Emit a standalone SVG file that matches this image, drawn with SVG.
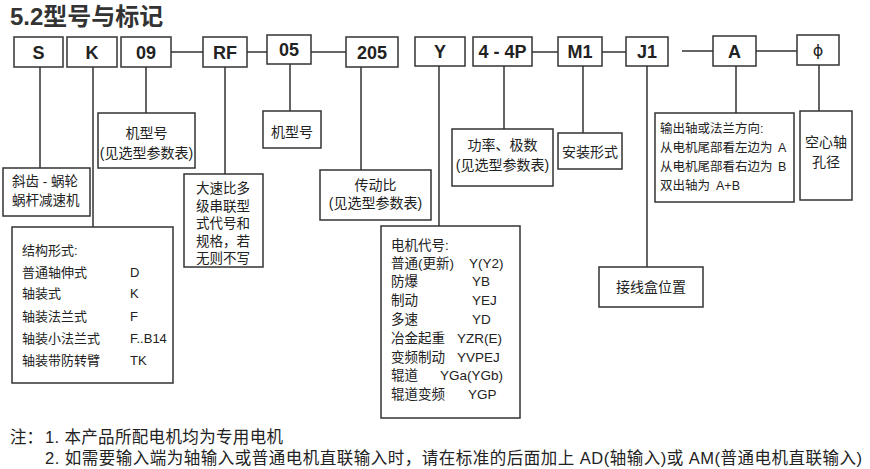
<svg xmlns="http://www.w3.org/2000/svg" width="870" height="469" viewBox="0 0 870 469">
<style>
.box{fill:#fff;stroke:#333;stroke-width:1.5}
.ln{fill:none;stroke:#333;stroke-width:1.5}
.code{font-family:"Liberation Sans","Noto Sans CJK SC",sans-serif;font-weight:bold;font-size:18px;fill:#222;text-anchor:middle}
.t{font-family:"Liberation Sans","Noto Sans CJK SC",sans-serif;font-size:13.5px;fill:#222}
.s13{font-size:13px}
.s12{font-size:12.5px}
.s14{font-size:14px}
.c{text-anchor:middle}
.note{font-family:"Liberation Sans","Noto Sans CJK SC",sans-serif;font-size:16.5px;fill:#222}
</style>
<rect width="870" height="469" fill="#fff"/>
<text x="10" y="25" font-family="Liberation Sans, Noto Sans CJK SC, sans-serif" font-weight="bold" font-size="24" fill="#333">5.2型号与标记</text>

<g id="connectors">
<path class="ln" d="M40 67V168M93 67V227M146 67V113M225 67V174M290 64V111M361 67V170M439 66V226M504 66V129M583 66V133M647 66V267M736 66V113M819 65V111"/>
<path class="ln" d="M171 52H203M247 52H267M311 52H346M532 52H558M602 52H626M682 51H713M756 51H797"/>
</g>

<g id="node-S"><rect class="box" x="14" y="37" width="49" height="30"/><text class="code" x="38.5" y="58.5">S</text></g>
<g id="node-K"><rect class="box" x="67" y="37" width="50" height="30"/><text class="code" x="92" y="58.5">K</text></g>
<g id="node-09"><rect class="box" x="121" y="37" width="50" height="30"/><text class="code" x="146" y="58.5">09</text></g>
<g id="node-RF"><rect class="box" x="203" y="37" width="44" height="30"/><text class="code" x="225" y="58.5">RF</text></g>
<g id="node-05"><rect class="box" x="267" y="35" width="44" height="29"/><text class="code" x="289" y="56">05</text></g>
<g id="node-205"><rect class="box" x="346" y="37" width="52" height="30"/><text class="code" x="372" y="58.5">205</text></g>
<g id="node-Y"><rect class="box" x="415" y="37" width="50" height="29"/><text class="code" x="440" y="58">Y</text></g>
<g id="node-44P"><rect class="box" x="473" y="37" width="59" height="29"/><text class="code" x="502.5" y="58">4 - 4P</text></g>
<g id="node-M1"><rect class="box" x="558" y="37" width="44" height="29"/><text class="code" x="580" y="58">M1</text></g>
<g id="node-J1"><rect class="box" x="626" y="37" width="42" height="29"/><text class="code" x="647" y="58">J1</text></g>
<g id="node-A"><rect class="box" x="713" y="36" width="43" height="30"/><text class="code" x="734.5" y="57.5">A</text></g>
<g id="node-phi"><rect class="box" x="797" y="35" width="42" height="30"/><text x="818" y="56" font-family="DejaVu Sans, sans-serif" font-size="16" fill="#222" text-anchor="middle">ϕ</text></g>

<g id="desc-S"><rect class="box" x="3" y="168" width="87" height="48"/>
<text class="t" x="12" y="186">斜齿 - 蜗轮</text><text class="t" x="12" y="205">蜗杆减速机</text></g>

<g id="desc-K"><rect class="box" x="12" y="227" width="161" height="156"/>
<g class="t s13">
<text x="22" y="255">结构形式:</text>
<text x="22" y="277">普通轴伸式</text><text x="130" y="277">D</text>
<text x="22" y="298">轴装式</text><text x="130" y="298">K</text>
<text x="22" y="321">轴装法兰式</text><text x="130" y="321">F</text>
<text x="22" y="343">轴装小法兰式</text><text x="130" y="343">F..B14</text>
<text x="22" y="365">轴装带防转臂</text><text x="130" y="365">TK</text>
</g></g>

<g id="desc-09"><rect class="box" x="98" y="113" width="97" height="55"/>
<text class="t s14 c" x="146.5" y="138">机型号</text><text class="t s14 c" x="146.5" y="158">(见选型参数表)</text></g>

<g id="desc-RF"><rect class="box" x="184" y="174" width="79" height="93"/>
<g class="t">
<text x="196" y="193">大速比多</text>
<text x="196" y="210.5">级串联型</text>
<text x="196" y="228">式代号和</text>
<text x="196" y="245.5">规格，若</text>
<text x="196" y="263">无则不写</text>
</g></g>

<g id="desc-05"><rect class="box" x="263" y="111" width="58" height="37"/>
<text class="t s14 c" x="292" y="137">机型号</text></g>

<g id="desc-205"><rect class="box" x="320" y="170" width="111" height="50"/>
<text class="t s14 c" x="375.5" y="190">传动比</text><text class="t s14 c" x="375.5" y="208">(见选型参数表)</text></g>

<g id="desc-Y"><rect class="box" x="381" y="226" width="139" height="192"/>
<g class="t">
<text x="391" y="250">电机代号:</text>
<text x="391" y="268">普通(更新)</text><text x="469" y="268">Y(Y2)</text>
<text x="391" y="286">防爆</text><text x="472" y="286">YB</text>
<text x="391" y="305">制动</text><text x="472" y="305">YEJ</text>
<text x="391" y="324">多速</text><text x="472" y="324">YD</text>
<text x="391" y="343">冶金起重</text><text x="457" y="343">YZR(E)</text>
<text x="391" y="362">变频制动</text><text x="457" y="362">YVPEJ</text>
<text x="391" y="380">辊道</text><text x="440" y="380">YGa(YGb)</text>
<text x="391" y="399">辊道变频</text><text x="468" y="399">YGP</text>
</g></g>

<g id="desc-44P"><rect class="box" x="452" y="129" width="101" height="57"/>
<text class="t s14 c" x="502.5" y="150">功率、极数</text><text class="t s14 c" x="502.5" y="170">(见选型参数表)</text></g>

<g id="desc-M1"><rect class="box" x="558" y="133" width="64" height="36"/>
<text class="t s14 c" x="590" y="157">安装形式</text></g>

<g id="desc-J1"><rect class="box" x="599" y="267" width="104" height="40"/>
<text class="t s14 c" x="651" y="292">接线盒位置</text></g>

<g id="desc-A"><rect class="box" x="655" y="113" width="139" height="89"/>
<g class="t s12">
<text x="660" y="133">输出轴或法兰方向:</text>
<text x="660" y="152">从电机尾部看左边为</text><text x="778" y="152">A</text>
<text x="660" y="171">从电机尾部看右边为</text><text x="778" y="171">B</text>
<text x="660" y="190">双出轴为</text><text x="716" y="190">A+B</text>
</g></g>

<g id="desc-phi"><rect class="box" x="800" y="111" width="52" height="89"/>
<text class="t s14 c" x="826" y="147">空心轴</text><text class="t s14 c" x="826" y="167">孔径</text></g>

<g id="notes">
<text class="note" x="10" y="443">注：</text>
<text class="note" x="45" y="443" textLength="238">1. 本产品所配电机均为专用电机</text>
<text class="note" x="45" y="464" textLength="817">2. 如需要输入端为轴输入或普通电机直联输入时，请在标准的后面加上 AD(轴输入)或 AM(普通电机直联输入)</text>
</g>
</svg>
